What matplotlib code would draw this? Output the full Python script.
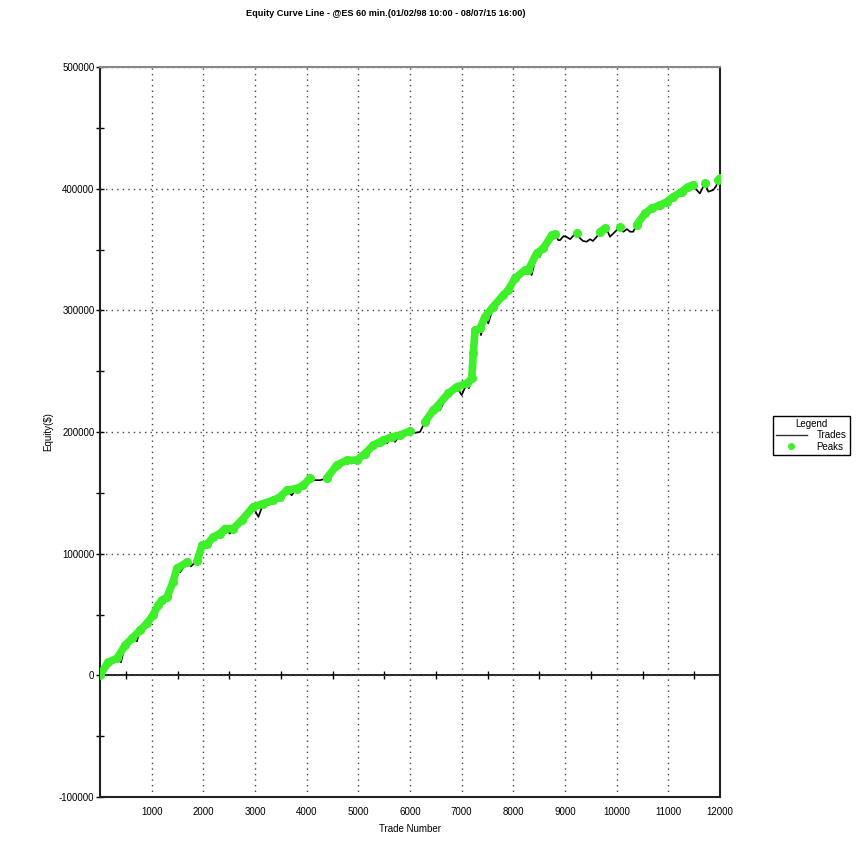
"""Equity curve line chart: trades with new-high peaks."""

import matplotlib

matplotlib.use("Agg")
import matplotlib.pyplot as plt
import numpy as np
from matplotlib.lines import Line2D

plt.rcParams["font.family"] = ["Liberation Sans", "DejaVu Sans"]

# trade number and closed equity
trade_no = [
    0, 155, 250, 330, 405, 485, 620, 715, 775, 910,
    1025, 1120, 1200, 1295, 1355, 1410, 1490, 1550, 1685, 1760,
    1820, 1880, 1975, 2070, 2130, 2195, 2320, 2420, 2515, 2580,
    2745, 2965, 3065, 3160, 3260, 3355, 3485, 3540, 3615, 3710,
    3805, 3935, 4065, 4160, 4260, 4390, 4580, 4775, 4870, 4970,
    5130, 5290, 5420, 5485, 5550, 5645, 5710, 5805, 6000, 6095,
    6195, 6290, 6450, 6515, 6580, 6740, 6905, 7000, 7100, 7140,
    7195, 7225, 7260, 7355, 7375, 7450, 7515, 7610, 7805, 7900,
    8030, 8225, 8290, 8355, 8450, 8515, 8580, 8745, 8805, 8870,
    8905, 8970, 9035, 9100, 9155, 9225, 9290, 9350, 9420, 9485,
    9540, 9615, 9680, 9775, 9815, 9870, 9970, 10065, 10130, 10200,
    10260, 10320, 10385, 10550, 10675, 10840, 10970, 11095, 11255, 11385,
    11480, 11550, 11610, 11710, 11775, 11870, 11925, 11970, 12000,
]
equity = [
    0, 10700, 9900, 14000, 10700, 24700, 30400, 28000, 37000, 42800,
    49300, 57600, 61700, 64100, 62500, 76500, 88000, 84700, 92900, 89600,
    92100, 93800, 106900, 107700, 105500, 113700, 116500, 120600, 116500, 120600,
    127500, 138400, 130200, 141200, 139800, 143900, 146600, 144700, 152100, 148000,
    153500, 156300, 161800, 160400, 160400, 161900, 172700, 176800, 174100, 176900,
    182300, 189200, 191900, 193300, 190600, 196000, 191900, 197400, 200900, 199300,
    200100, 208300, 217900, 220600, 217900, 231700, 237100, 230300, 239900, 236000,
    244000, 264600, 283700, 285100, 279600, 294700, 289200, 302900, 312500, 316600,
    326200, 333100, 333200, 329000, 346800, 344000, 350900, 361900, 362500, 357700,
    357700, 361000, 360200, 358500, 361000, 363500, 359200, 357000, 356400, 358500,
    357000, 360500, 364600, 367300, 365900, 360500, 364600, 368700, 364600, 366800,
    364600, 364600, 370100, 379700, 383800, 386500, 389200, 393300, 397400, 401600,
    403000, 398900, 396100, 404400, 397500, 398900, 402100, 407100, 408400,
]

title = "Equity Curve Line - @ES 60 min.(01/02/98 10:00 - 08/07/15 16:00)"
x_ticks = list(range(1000, 13000, 1000))
y_ticks = list(range(-100000, 600000, 100000))

trade_no = np.array(trade_no)
equity = np.array(equity, dtype=float)

# peaks: trades that set a new equity high; join peaks split by a single dip
peak_idx = np.flatnonzero(equity >= np.maximum.accumulate(equity))
peak_x, peak_y = [], []
for k, i in enumerate(peak_idx):
    if k > 0 and i - peak_idx[k - 1] > 2:
        peak_x.append(np.nan)
        peak_y.append(np.nan)
    peak_x.append(trade_no[i])
    peak_y.append(equity[i])

GREEN = "#3ef02a"
FS = 7

fig = plt.figure(figsize=(8.62, 8.56), dpi=100)
ax = fig.add_axes([100 / 862, 59 / 856, 620 / 862, 730 / 856])

ax.plot(trade_no, equity, color="black", linewidth=1.2, zorder=3)
ax.plot(peak_x, peak_y, color=GREEN, linewidth=5.5, marker="o", markersize=5.5,
        solid_capstyle="round", zorder=4)

ax.set_xlim(0, 12000)
ax.set_ylim(-100000, 500000)
ax.set_xticks(x_ticks)
ax.set_xticklabels([str(v) for v in x_ticks], fontsize=FS)
ax.set_yticks(y_ticks)
ax.set_yticklabels([str(v) for v in y_ticks], fontsize=FS)
ax.set_yticks(list(range(-50000, 500000, 100000)), minor=True)
ax.tick_params(axis="x", length=0, pad=7)
ax.tick_params(axis="y", which="both", direction="inout", length=6, width=1, pad=1)
ax.grid(True, linestyle=(0, (1, 3)), color="#444444", linewidth=1)

for side in ["left", "bottom", "right"]:
    ax.spines[side].set_color("#222222")
    ax.spines[side].set_linewidth(1.5)
ax.spines["top"].set_color("#888888")
ax.spines["top"].set_linewidth(1.5)

# zero line with its own cross ticks
zero = ax.secondary_xaxis(1 / 6)
zero.set_xticks(list(range(500, 12000, 1000)))
zero.tick_params(direction="inout", length=6, width=1, labelbottom=False)
zero.spines["bottom"].set_color("black")
zero.spines["bottom"].set_linewidth(1.2)

ax.set_xlabel("Trade Number", fontsize=FS, labelpad=5)
ax.set_ylabel("Equity($)", fontsize=FS, labelpad=4)
fig.text(386 / 862, 1 - 13 / 856, title, ha="center", va="center",
         fontsize=6.6, fontweight="bold")

handles = [
    Line2D([], [], color="#333333", linewidth=1),
    Line2D([], [], color=GREEN, marker="o", markersize=4, linestyle="none"),
]
leg = fig.legend(handles, ["Trades", "Peaks"], title="Legend",
                 loc="upper left", bbox_to_anchor=(773 / 862, 1 - 416 / 856),
                 fontsize=FS, title_fontsize=FS, fancybox=False,
                 edgecolor="black", framealpha=1, handlelength=3.2,
                 borderpad=0.3, borderaxespad=0, labelspacing=0.15,
                 handletextpad=1.0)
leg.get_frame().set_linewidth(1)

fig.savefig("out.png", dpi=100)
